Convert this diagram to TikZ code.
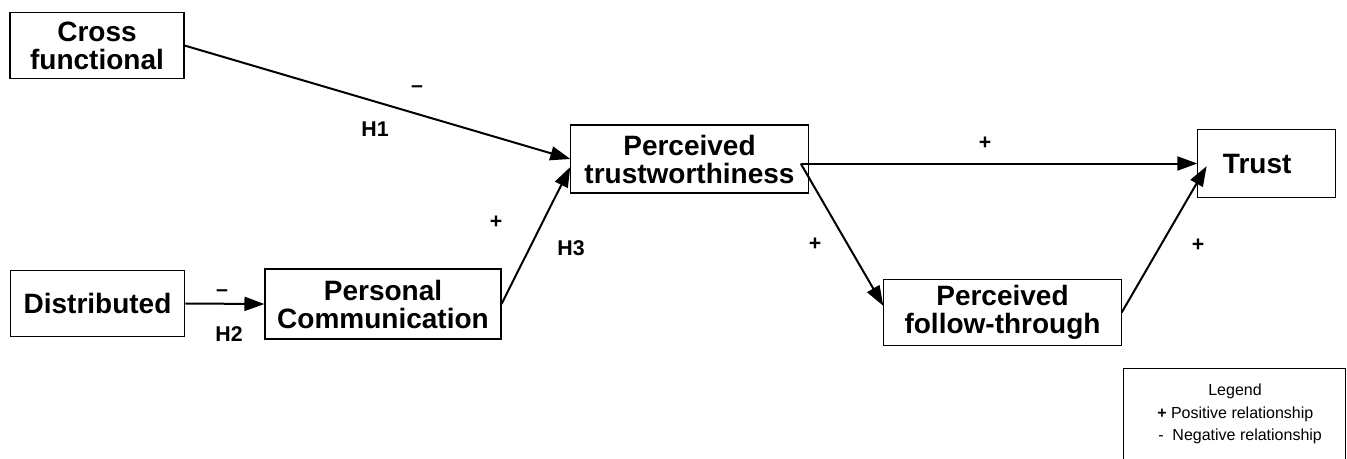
\documentclass[tikz,border=0pt]{standalone}
\usepackage{fontspec}
\setmainfont{Liberation Sans}
\usepackage{tikz}
\usetikzlibrary{positioning,arrows.meta}

\begin{document}
\begin{tikzpicture}[x=0.75pt, y=-0.75pt,
    boxnode/.style={rectangle, draw=black, line width=0.8pt, inner sep=0pt, align=center, font=\fontsize{21}{21}\selectfont\bfseries},
    signnode/.style={inner sep=0pt, font=\fontsize{16}{16}\selectfont\bfseries},
    legtext/.style={inner sep=0pt, font=\fontsize{12}{13}\selectfont},
    link/.style={line width=1.5pt, -{Triangle[length=15pt, width=10.5pt]}}]

        \useasboundingbox (0,0) rectangle (1347,458);
        \clip (0,0) rectangle (1347,458);

        % boxes
        \node[boxnode, minimum width=130.5pt, minimum height=50pt] (1) at (97,45.5) {Cross\\functional};
        \node[boxnode, minimum width=131pt, minimum height=50pt] (2) at (97.5,303.5) {Distributed};
        \node[boxnode, minimum width=177pt, minimum height=52.5pt] (3) at (383,304) {Personal\\Communication};
        \node[boxnode, minimum width=178pt, minimum height=51pt] (4) at (689.5,159) {Perceived\\trustworthiness};
        \node[boxnode, minimum width=103pt, minimum height=51pt] (5) at (1266.5,163.5) {Trust\hspace*{14pt}};
        \node[boxnode, minimum width=178pt, minimum height=49pt] (6) at (1002.5,312.5) {Perceived\\follow-through};
        \coordinate (4out) at ([xshift=-6pt]4.east |- 5.west);

        % arrows
        \draw[link] (1.east) -- (4.west);
        \draw[link] (2.east) -- (3.west);
        \draw[link] (3.east) -- ([yshift=-6pt]4.west);
        \draw[link] (4out) -- (5.west);
        \draw[link] (4out) -- ([yshift=5pt]6.west);
        \draw[link] (6.east) -- ([xshift=7pt, yshift=-2pt]5.west);

        % signs
        \node[signnode] (m1) at (417,89) {--};
        \node[signnode] (h1) at (375,129) {H1};
        \node[signnode] (m2) at (222,293) {--};
        \node[signnode] (h2) at (229,334) {H2};
        \node[signnode] (p3) at (496,222) {+};
        \node[signnode] (h3) at (571,248) {H3};
        \node[signnode] (p4) at (985,143) {+};
        \node[signnode] (p5) at (815,244) {+};
        \node[signnode] (p6) at (1198,245) {+};

        % legend
        \node[draw=black, line width=0.6pt, minimum width=166.5pt, minimum height=76pt] (leg) at (1234,419.5) {};
        \node[legtext, anchor=base] (legtitle) at (1235,395) {Legend};
        \node[legtext, anchor=base west] (legpos) at (1157,418) {\textbf{+} Positive relationship};
        \node[legtext, anchor=base west] (legneg) at (1158,440) {-\ \ Negative relationship};

\end{tikzpicture}
\end{document}
